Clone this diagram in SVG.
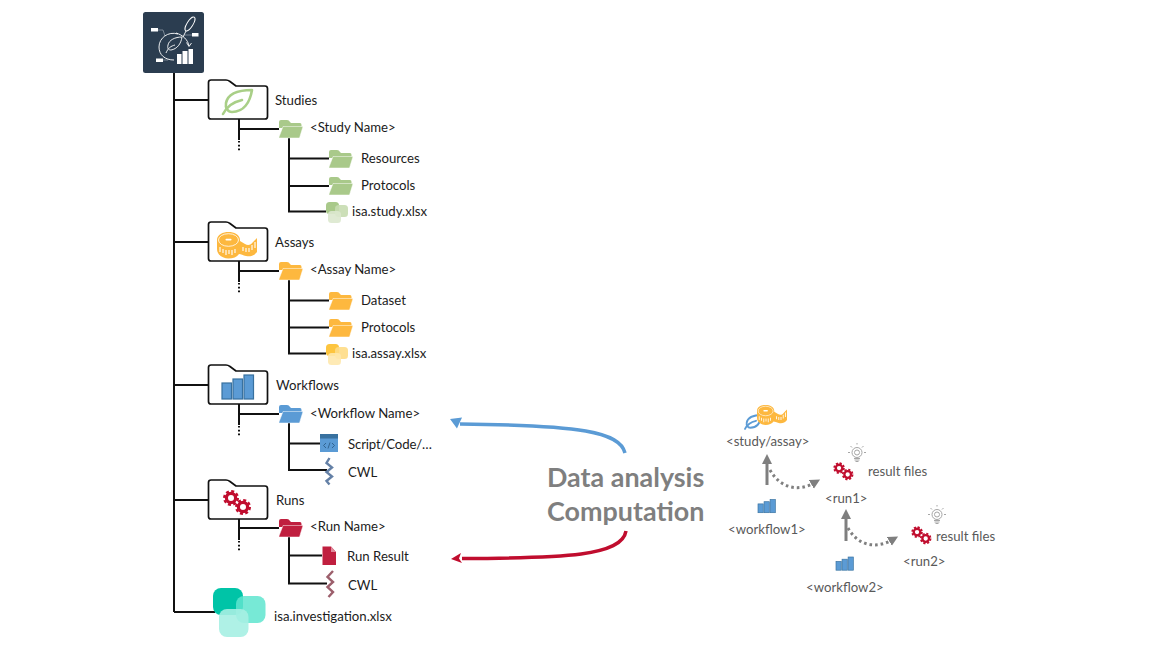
<svg xmlns="http://www.w3.org/2000/svg" xmlns:xlink="http://www.w3.org/1999/xlink" width="1155" height="650" viewBox="0 0 1155 650">
<style>
text{font-family:"Lato","Liberation Sans",sans-serif;font-size:13.2px;fill:#1c1c1c}
.r text,text.r{fill:#595959}
.t{stroke:#111;stroke-width:2;fill:none}
.d{stroke:#111;stroke-width:2;fill:none;stroke-dasharray:1.6 2.2}
.big{fill:#fff;stroke:#111;stroke-width:1.7;stroke-linejoin:round}
.green{fill:#a9c98a}.orange{fill:#fdb83f}.blue{fill:#5b9bd5}.red{fill:#c01f3f}
.gear{fill:none;stroke:#c00d2e}
.bar{fill:#5b9bd5;stroke:#38719f;stroke-width:1.2}
.lg{fill:none;stroke:#fff;stroke-width:.9}
.lt{fill:none;stroke:#9aa5b0;stroke-width:.7}
.lw{fill:#fff}
.gr{stroke:#7f7f7f;stroke-width:3;fill:none}
.grd{stroke:#7f7f7f;stroke-width:3;fill:none;stroke-dasharray:2.6 3}
.bulb{fill:none;stroke:#a6a6a6;stroke-width:1}
.big-label{font-size:26.900px;font-weight:700;fill:#7f7f7f}
</style>
<defs>
<marker id="mb" markerUnits="userSpaceOnUse" markerWidth="20" markerHeight="20" refX="6" refY="10" orient="auto"><path d="M16,15 L4,16.500 L7,10 L9,5.500Z" fill="#5b9bd5"/></marker>
<marker id="mr" markerUnits="userSpaceOnUse" markerWidth="20" markerHeight="20" refX="6" refY="10" orient="auto"><path d="M17,9.500 L7,15.500 L9,10 L6,5.500Z" fill="#c00d2e"/></marker>
<marker id="mg" markerUnits="userSpaceOnUse" markerWidth="12" markerHeight="12" refX="3" refY="6" orient="auto"><path d="M0,1 L10,6 L0,11Z" fill="#7f7f7f"/></marker>
<path id="bigfolder" class="big" d="M211,0.5 H226 Q228,0.5 230,2 L236,6.5 H265 Q267.5,6.5 267.5,9 V37 Q267.5,39.5 265,39.5 H211 Q208.5,39.5 208.5,37 V3 Q208.5,0.5 211,0.5Z" transform="translate(-208 0)"/>
<g id="folder">
<path d="M0,2 Q0,0 2,0 H8 Q10,0 11,2 L12,3 H21 Q22.5,3 22.5,5 V8 H0Z"/>
<path d="M4,6.5 H24 L20.5,18 H0.5 Q-0.2,18 0,17Z" stroke="#fff" stroke-opacity=".55" stroke-width=".9"/>
</g>
<g id="leaf" fill="none" stroke-linecap="round" stroke-linejoin="round">
<path d="M29,0 C17,0 5,3 3,13 C2,18 5,22 9,22 C21,22 27,12 29,0Z"/>
<path d="M0,24 C4,16 10,12 19,10"/>
</g>
<g id="tape">
<path d="M0,8 C0,2.500 6,0 11.500,0 C17,0 23,2.500 23,8 V9 L28,12 C31,14 34,13 36,10 L40,6 V20 C37,24 33,25 29,24 C26,23.500 24,22 22,22 C20,25 16,26.500 11.500,26.500 C6,26.500 0,23 0,17Z" fill="#fdb83f"/>
<ellipse cx="11.500" cy="8" rx="10" ry="6.300" fill="none" stroke="#fff" stroke-width=".8"/>
<rect x="8.500" y="6.700" width="6" height="1.800" rx=".8" fill="#fff"/>
<path d="M3,15 v5 M6,17 v4 M9,18 v5 M12,18 v4 M15,18 v5 M18,17 v4 M26,15 v4 M29,16 v4 M32,16 v4 M35,13 v5 M38,10 v6" stroke="#fff" stroke-width="1.100" fill="none"/>
</g>
<g id="bars">
<rect class="bar" x="0" y="8" width="9.500" height="16"/>
<rect class="bar" x="11" y="4" width="9.500" height="20"/>
<rect class="bar" x="22" y="0" width="9.500" height="24"/>
</g>
<g id="gear1">
<circle r="4.600" stroke-width="3.200" class="gear"/>
<circle r="6.800" stroke-width="2.400" class="gear" stroke-dasharray="3 2.340"/>
</g>
<g id="gears">
<use xlink:href="#gear1" href="#gear1" transform="translate(7,7)"/>
<use xlink:href="#gear1" href="#gear1" transform="translate(19,16)"/>
</g>
<g id="bulb">
<circle cx="9" cy="7.500" r="5" class="bulb"/>
<circle cx="9" cy="7.500" r="2.500" class="bulb"/>
<path class="bulb" d="M6,13.500 H12 M6.500,15 H11.500 M7.500,16.500 H10.500 M0,7.500 H2 M16,7.500 H18 M2.500,1 L4,2.500 M15.500,1 L14,2.500 M9,-2 V-0.500"/>
</g>
</defs>

<g id="connectors">
<path class="t" d="M174,73 V612 M174,100 H208 M174,242 H208 M174,385 H208 M174,500 H208 M174,612 H215"/>
<path class="t" d="M239,119 V140 M239,129 H279 M289,138 V211.500 H326 M289,158.500 H329 M289,186 H329"/>
<path class="d" d="M239,141 V151"/>
<path class="t" d="M239,261 V282 M239,271 H279 M289,280 V353.500 H326 M289,300.500 H329 M289,327.500 H329"/>
<path class="d" d="M239,283 V293"/>
<path class="t" d="M239,404 V425 M239,414 H279 M289,423 V470 H327 M289,443.500 H320"/>
<path class="d" d="M239,426 V436"/>
<path class="t" d="M239,519 V540 M239,528 H279 M289,537 V583.500 H327 M289,555.500 H322"/>
<path class="d" d="M239,541 V551"/>
<path d="M625,453 C620,432 580,425 460,424" fill="none" stroke="#5b9bd5" stroke-width="3.500" marker-end="url(#mb)"/>
<path d="M626,531 C622,556 565,558 462,558.500" fill="none" stroke="#c00d2e" stroke-width="3.500" marker-end="url(#mr)"/>
<path class="gr" d="M767,485 V461" marker-end="url(#mg)"/>
<path class="gr" d="M846,541 V516" marker-end="url(#mg)"/>
<path class="grd" d="M770,470 C780,488 798,492 814,483" marker-end="url(#mg)"/>
<path class="grd" d="M848,528 C858,546 876,549 892,540" marker-end="url(#mg)"/>
</g>

<g id="root">
<rect x="143" y="12" width="61" height="61" rx="2.500" fill="#2b3d50"/>
<path class="lt" d="M158,30 H163 L165,36 M192,35 H184 M163,60 H168"/>
<rect class="lw" x="151" y="28" width="7" height="3.500"/>
<rect class="lw" x="192" y="33" width="6.500" height="3.500"/>
<rect class="lw" x="156" y="58.500" width="7" height="3.500"/>
<rect class="lw" x="177" y="54" width="4.500" height="10"/>
<rect class="lw" x="182.500" y="51" width="5" height="13"/>
<rect class="lw" x="188.500" y="49" width="4.500" height="15"/>
<path class="lg" d="M178,34 C168,31 159,38 159,47 C159,55 165,60 174,60"/>
<path class="lg" d="M176,33 C183,35 188,40 189,46 M186.500,42.500 L189,46.500 L191.500,43"/>
<ellipse class="lg" cx="190" cy="24" rx="8" ry="3" transform="rotate(-58 190 24)"/>
<path class="lg" d="M186,31 L183,37"/>
<path class="lg" d="M182,37 C175,37 169,40 168,45 C167,49 169,50 171,50 C177,49 181,44 182,37Z M166,53 C168,48 171,46 175,45"/>
</g>

<g id="studies">
<use xlink:href="#bigfolder" href="#bigfolder" transform="translate(208,79.500)"/>
<use xlink:href="#leaf" href="#leaf" transform="translate(223,90)" stroke="#a9cf87" stroke-width="2.600"/>
<text x="275" y="105">Studies</text>
</g>
<g id="study-name"><use xlink:href="#folder" href="#folder" class="green" transform="translate(279,120)"/><text x="310" y="132">&lt;Study Name&gt;</text></g>
<g id="study-resources"><use xlink:href="#folder" href="#folder" class="green" transform="translate(329,150)"/><text x="361" y="163">Resources</text></g>
<g id="study-protocols"><use xlink:href="#folder" href="#folder" class="green" transform="translate(329,177)"/><text x="361" y="190">Protocols</text></g>
<g id="study-file">
<rect x="326" y="202" width="13" height="12" rx="3.500" fill="#a9c98a"/>
<rect x="335" y="205" width="13" height="12" rx="3.500" fill="#c6dcb0" opacity=".9"/>
<rect x="328" y="211" width="13" height="12" rx="3.500" fill="#dbe8ce" opacity=".9"/>
<text x="352" y="216">isa.study.xlsx</text>
</g>

<g id="assays">
<use xlink:href="#bigfolder" href="#bigfolder" transform="translate(208,221.500)"/>
<use xlink:href="#tape" href="#tape" transform="translate(217,232)"/>
<text x="275" y="247">Assays</text>
</g>
<g id="assay-name"><use xlink:href="#folder" href="#folder" class="orange" transform="translate(279,262)"/><text x="310" y="274">&lt;Assay Name&gt;</text></g>
<g id="assay-dataset"><use xlink:href="#folder" href="#folder" class="orange" transform="translate(329,292)"/><text x="361" y="305">Dataset</text></g>
<g id="assay-protocols"><use xlink:href="#folder" href="#folder" class="orange" transform="translate(329,319)"/><text x="361" y="332">Protocols</text></g>
<g id="assay-file">
<rect x="326" y="344" width="13" height="12" rx="3.500" fill="#fdc53f"/>
<rect x="335" y="347" width="13" height="12" rx="3.500" fill="#fedc85" opacity=".9"/>
<rect x="328" y="353" width="13" height="12" rx="3.500" fill="#fee8ad" opacity=".9"/>
<text x="352" y="358">isa.assay.xlsx</text>
</g>

<g id="workflows">
<use xlink:href="#bigfolder" href="#bigfolder" transform="translate(208,364.500)"/>
<use xlink:href="#bars" href="#bars" transform="translate(222,375)"/>
<text x="276" y="390">Workflows</text>
</g>
<g id="workflow-name"><use xlink:href="#folder" href="#folder" class="blue" transform="translate(279,405)"/><text x="310" y="418">&lt;Workflow Name&gt;</text></g>
<g id="workflow-script">
<rect x="320" y="434" width="18" height="18" fill="#5b9bd5"/>
<rect x="320" y="434" width="18" height="4.500" fill="#38719f"/>
<path d="M326,443 L323.500,445.500 L326,448 M332,443 L334.500,445.500 L332,448 M330,442.500 L328,448.500" fill="none" stroke="#2e5f8a" stroke-width=".9"/>
<text x="348" y="449" textLength="84">Script/Code/…</text>
</g>
<g id="workflow-cwl">
<path d="M329.500,458 L326.500,463 L332,467.500 L326.500,472 L332,476.500 L326.500,481 L329.500,484.500" fill="none" stroke="#6480a6" stroke-width="2.400"/>
<text x="348" y="477">CWL</text>
</g>

<g id="runs">
<use xlink:href="#bigfolder" href="#bigfolder" transform="translate(208,479.500)"/>
<use xlink:href="#gears" href="#gears" transform="translate(224,491)"/>
<text x="276" y="505">Runs</text>
</g>
<g id="run-name"><use xlink:href="#folder" href="#folder" class="red" transform="translate(279,519)"/><text x="310" y="531">&lt;Run Name&gt;</text></g>
<g id="run-result">
<path d="M322.500,546.500 H331 L336,552 V565 H322.500Z" fill="#c01f3f"/>
<path d="M331,546.500 V552 H336Z" fill="#e08a9b"/>
<text x="347" y="561">Run Result</text>
</g>
<g id="run-cwl">
<path d="M333,571 L327.500,577 L333,582 L327.500,587 L333,592 L328.500,597" fill="none" stroke="#9c5f6c" stroke-width="2.400"/>
<text x="348" y="590">CWL</text>
</g>

<g id="investigation">
<rect x="213" y="588" width="30" height="27" rx="8" fill="#00c4a7"/>
<rect x="236" y="596" width="29.500" height="27" rx="8" fill="#5fe5cf" opacity=".85"/>
<rect x="219" y="609" width="29.500" height="28" rx="8" fill="#a6f0e3" opacity=".9"/>
<text x="274" y="621">isa.investigation.xlsx</text>
</g>

<g id="label">
<text class="big-label" x="547" y="487">Data analysis</text>
<text class="big-label" x="547" y="521">Computation</text>
</g>

<g id="study-assay" class="r">
<use xlink:href="#leaf" href="#leaf" transform="translate(745,415) scale(.58)" stroke="#5b9bd5" stroke-width="3.200"/>
<use xlink:href="#tape" href="#tape" transform="translate(757,405) scale(.75)"/>
<text x="726" y="446">&lt;study/assay&gt;</text>
</g>
<g id="workflow1" class="r">
<use xlink:href="#bars" href="#bars" transform="translate(758,499.500) scale(.55)"/>
<text x="728" y="534">&lt;workflow1&gt;</text>
</g>
<g id="run1" class="r">
<use xlink:href="#gears" href="#gears" transform="translate(834,463) scale(.72)"/>
<use xlink:href="#bulb" href="#bulb" transform="translate(848,445)"/>
<text x="868" y="476">result files</text>
<text x="825" y="503">&lt;run1&gt;</text>
</g>
<g id="workflow2" class="r">
<use xlink:href="#bars" href="#bars" transform="translate(836,557) scale(.55)"/>
<text x="806" y="592">&lt;workflow2&gt;</text>
</g>
<g id="run2" class="r">
<use xlink:href="#gears" href="#gears" transform="translate(912,527) scale(.72)"/>
<use xlink:href="#bulb" href="#bulb" transform="translate(928,507)"/>
<text x="936" y="541">result files</text>
<text x="903" y="566">&lt;run2&gt;</text>
</g>
</svg>
